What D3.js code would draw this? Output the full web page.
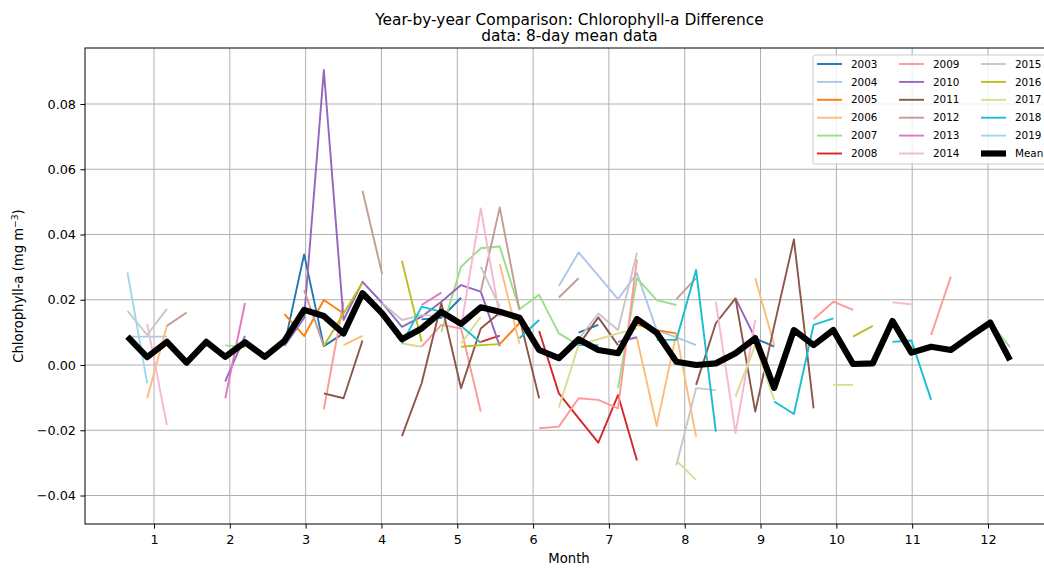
<!DOCTYPE html>
<html><head><meta charset="utf-8">
<script src="https://cdn.jsdelivr.net/npm/d3@7"></script>
<style>
body{margin:0;background:#fff;}
text{font-family:"DejaVu Sans",sans-serif;fill:#000;}
</style></head>
<body>
<svg id="chart" width="1044" height="568"></svg>
<script>
const _ = null;
// 8-day period positions (fractional month)
const periods = [0.65,0.91,1.17,1.43,1.69,1.94,2.20,2.46,2.72,2.98,3.24,3.50,3.75,4.01,4.27,4.53,4.79,5.05,5.31,5.56,5.82,6.08,6.34,6.60,6.86,7.12,7.37,7.63,7.89,8.15,8.41,8.67,8.93,9.18,9.44,9.70,9.96,10.22,10.48,10.74,10.99,11.25,11.51,11.77,12.03,12.29];
const years = ["2003","2004","2005","2006","2007","2008","2009","2010","2011","2012","2013","2014","2015","2016","2017","2018","2019"];
const colors = ["#1f77b4","#aec7e8","#ff7f0e","#ffbb78","#98df8a","#d62728","#ff9896","#9467bd","#8c564b","#c49c94","#e377c2","#f7b6d2","#c7c7c7","#bcbd22","#dbdb8d","#17becf","#9edae5"];
const monthTicks = [1,2,3,4,5,6,7,8,9,10,11,12];
const yTicks = [-0.04,-0.02,0.00,0.02,0.04,0.06,0.08];

const y2003 = [_,_,_,_,_,_,_,_,.0061,.0339,.0058,.0097,_,_,_,.014,.0145,.0206,_,_,_,_,_,.0099,.0123,_,_,_,_,_,_,_,.0082,.0056,_,_,_,_,_,_,_,_,_,_,_,_];
const y2004 = [.0087,.0087,.0087,_,_,_,_,_,_,_,_,_,_,_,_,_,_,_,_,_,_,_,.0242,.0345,.0274,.0202,.0281,.0107,.0085,.0061,_,_,_,_,_,_,_,_,_,_,_,_,_,_,_,_];
const y2005 = [_,_,_,_,_,_,_,_,.0156,.0089,.0199,.0158,_,_,_,_,_,_,_,.0064,.0128,_,_,_,_,_,.0123,.0107,.0097,_,_,_,_,_,_,_,_,_,_,_,_,_,_,_,_,_];
const y2006 = [_,-.0102,.012,_,_,_,_,_,_,_,_,.0061,.0089,_,_,_,_,_,_,.031,.0066,_,_,_,_,_,.0082,-.0187,.0097,-.022,_,_,.0266,.0061,_,_,_,_,_,_,_,_,_,_,_,_];
const y2007 = [_,_,_,_,_,.006,.0055,_,_,_,_,_,_,_,_,_,.0102,.0301,.0358,.0363,.0171,.0215,.0097,.0061,_,-.0071,.0266,.0199,.0184,_,_,_,_,_,_,_,_,_,_,_,_,_,_,_,.013,.0055];
const y2008 = [_,_,_,_,_,_,_,_,_,_,_,_,_,_,_,_,_,_,.0071,.009,_,.0104,-.0087,-.0163,-.0238,-.0092,-.0293,_,_,_,_,_,_,_,_,_,_,_,_,_,_,_,_,_,_,_];
const y2009 = [_,_,_,_,_,_,_,_,_,_,-.0136,.0194,_,_,_,.0056,.0123,.0112,-.0143,_,_,-.0194,-.0189,-.0102,-.0107,-.0133,.0324,_,_,_,_,_,_,_,_,.014,.0194,.0169,_,_,_,.0092,.0271,_,_,_];
const y2010 = [_,_,_,_,_,-.005,.0089,_,.0058,.0144,.0904,.0138,.0255,.019,.0117,.0148,.0194,.0245,.0225,.0058,_,_,_,_,_,.0071,.0085,_,_,_,_,.0204,.0082,_,_,_,_,_,_,_,_,_,_,_,_,_];
const y2011 = [_,_,_,_,_,_,_,_,_,_,-.0087,-.0102,.0075,_,-.0218,-.0056,.0189,-.0071,.0112,.016,.0145,-.0102,_,.0061,.0146,.0061,_,_,_,-.0061,.0128,.0204,-.0143,.012,.0385,-.0133,_,_,_,_,_,_,_,_,_,_];
const y2012 = [_,_,.012,.0161,_,_,_,_,_,.023,.0058,_,.0534,.0278,_,_,_,_,.0225,.0483,.0169,_,.0207,.0266,_,_,_,_,.0202,.0266,_,_,_,_,_,_,_,_,_,_,_,_,_,_,_,_];
const y2013 = [_,_,_,_,_,-.0102,.019,_,_,_,_,_,_,_,_,.0184,.0222,_,_,_,_,_,_,_,_,_,_,_,_,_,_,_,_,_,_,_,_,_,_,_,_,_,_,_,_,_];
const y2014 = [_,.0126,-.0184,_,_,_,_,_,_,_,_,_,_,_,_,_,_,.0117,.048,.0148,_,_,_,_,_,_,_,_,_,_,.0194,-.0209,.0138,_,_,_,_,_,_,.0192,.0186,_,_,_,_,_];
const y2015 = [.0166,.0092,.0172,_,_,_,_,_,_,_,_,_,_,.019,.0138,.0153,.015,_,.0301,.0179,_,_,_,.0079,.0158,.0107,.0344,_,-.0307,-.0071,-.0077,_,_,_,_,_,_,_,_,_,_,_,_,_,_,_];
const y2016 = [_,_,_,_,_,_,_,_,_,_,.0058,.0158,.0252,_,.032,.0071,_,.0056,.0061,.0064,_,_,_,_,_,_,_,_,_,_,_,_,_,_,_,_,_,.0087,.012,_,_,_,_,_,_,_];
const y2017 = [_,_,_,_,_,_,_,_,_,_,_,_,_,_,.0066,.0056,_,.0066,.0148,_,_,_,-.013,.0061,.0079,.0097,.0112,_,-.0293,-.0352,_,-.0097,.0061,-.0107,_,_,-.0061,-.0061,_,_,_,_,_,_,_,_];
const y2018 = [_,_,_,_,_,_,_,_,_,_,_,_,_,_,.0066,.0179,.0163,.012,.0068,_,.0082,.0138,_,.0061,.0061,_,_,.0077,.0077,.0291,-.0204,_,_,-.0112,-.015,.0123,.0143,_,_,.0071,.0075,-.0107,_,_,_,_];
const y2019 = [.0284,-.0056,_,_,_,_,_,_,_,_,_,_,_,_,_,_,_,_,_,_,_,_,_,_,_,_,_,_,_,_,_,_,_,_,_,_,_,_,_,_,_,_,_,_,_,_];
const meanValues = [0.0087,0.0024,0.0071,0.0007,0.0071,0.0025,0.0070,0.0025,0.0074,0.0169,0.0150,0.0097,0.0220,0.0158,0.0079,0.0112,0.0163,0.0126,0.0177,0.0163,0.0145,0.0046,0.0021,0.0079,0.0046,0.0036,0.0141,0.0099,0.0010,0.0000,0.0005,0.0036,0.0082,-0.0070,0.0107,0.0061,0.0107,0.0003,0.0005,0.0135,0.0038,0.0056,0.0046,0.0089,0.0130,0.0015];

const series = [y2003,y2004,y2005,y2006,y2007,y2008,y2009,y2010,y2011,y2012,y2013,y2014,y2015,y2016,y2017,y2018,y2019];

const svg = d3.select("#chart");
const L = 85, T = 48, R = 1054, B = 524;
const x = d3.scaleLinear().domain([1,12]).range([154,988]);
const y = d3.scaleLinear().domain([0,0.08]).range([365,104]);

svg.append("defs").append("clipPath").attr("id","clip")
  .append("rect").attr("x",L).attr("y",T).attr("width",R-L).attr("height",B-T);

// grid
const grid = svg.append("g");
grid.selectAll("line.gx").data(monthTicks).join("line")
  .attr("x1",d=>x(d)).attr("x2",d=>x(d)).attr("y1",T).attr("y2",B)
  .attr("stroke","#b0b0b0").attr("stroke-width",1);
grid.selectAll("line.gy").data(yTicks).join("line")
  .attr("x1",L).attr("x2",R).attr("y1",d=>y(d)).attr("y2",d=>y(d))
  .attr("stroke","#b0b0b0").attr("stroke-width",1);

const plot = svg.append("g").attr("clip-path","url(#clip)");
const line = d3.line().defined(d=>d[1]!==null).x(d=>x(d[0])).y(d=>y(d[1]));
series.forEach((s,i)=>{
  plot.append("path").datum(s.map((v,j)=>[periods[j],v]))
    .attr("d",line).attr("fill","none").attr("stroke",colors[i])
    .attr("stroke-width",1.9).attr("stroke-linejoin","round").attr("stroke-linecap","butt");
});
plot.append("path").datum(meanValues.map((v,j)=>[periods[j],v]))
  .attr("d",line).attr("fill","none").attr("stroke","#000")
  .attr("stroke-width",6.2).attr("stroke-linejoin","round");

// axes
const xAxis = d3.axisBottom(x).tickValues(monthTicks).tickSize(4.6).tickPadding(6.5).tickFormat(d3.format("d"));
const gx = svg.append("g").attr("transform",`translate(0,${B})`).call(xAxis);
gx.select(".domain").remove();
gx.selectAll("text").style("font-size","12.8px").style("font-family","DejaVu Sans");
const yAxis = d3.axisLeft(y).tickValues(yTicks).tickSize(4.6).tickPadding(4.4).tickFormat(d=>d3.format(".2f")(d).replace("-","\u2212"));
const gy = svg.append("g").attr("transform",`translate(${L},0)`).call(yAxis);
gy.select(".domain").remove();
gy.selectAll("text").style("font-size","12.8px").style("font-family","DejaVu Sans");

svg.append("rect").attr("x",L).attr("y",T).attr("width",R-L).attr("height",B-T)
  .attr("fill","none").attr("stroke","#000").attr("stroke-width",1);

// titles
svg.append("text").attr("x",(L+R)/2).attr("y",24.5).attr("text-anchor","middle")
  .style("font-size","15.4px").text("Year-by-year Comparison: Chlorophyll-a Difference");
svg.append("text").attr("x",(L+R)/2).attr("y",40.5).attr("text-anchor","middle")
  .style("font-size","15.4px").text("data: 8-day mean data");
svg.append("text").attr("x",569).attr("y",563).attr("text-anchor","middle")
  .style("font-size","13.2px").text("Month");
const yl = svg.append("text").attr("transform","translate(23,286) rotate(-90)").attr("text-anchor","middle")
  .style("font-size","13.2px");
yl.append("tspan").text("Chlorophyll-a (mg m");
yl.append("tspan").attr("dy",-5.5).style("font-size","9.2px").text("\u22123");
yl.append("tspan").attr("dy",5.5).text(")");

// legend
const lg = svg.append("g");
lg.append("rect").attr("x",813).attr("y",55).attr("width",240).attr("height",109)
  .attr("fill","#fff").attr("fill-opacity",0.8).attr("stroke","#cccccc").attr("rx",2);
const entries = years.map((yr,i)=>({label:yr,color:colors[i],w:1.9})).concat([{label:"Mean",color:"#000",w:6.2}]);
entries.forEach((e,i)=>{
  const col = Math.floor(i/6), row = i%6;
  const cx = [817,899,981][col], cy = 64 + row*17.9;
  lg.append("line").attr("x1",cx).attr("x2",cx+25).attr("y1",cy).attr("y2",cy)
    .attr("stroke",e.color).attr("stroke-width",e.w);
  lg.append("text").attr("x",cx+34).attr("y",cy+3.6).style("font-size","10.4px").text(e.label);
});
</script>
</body></html>
